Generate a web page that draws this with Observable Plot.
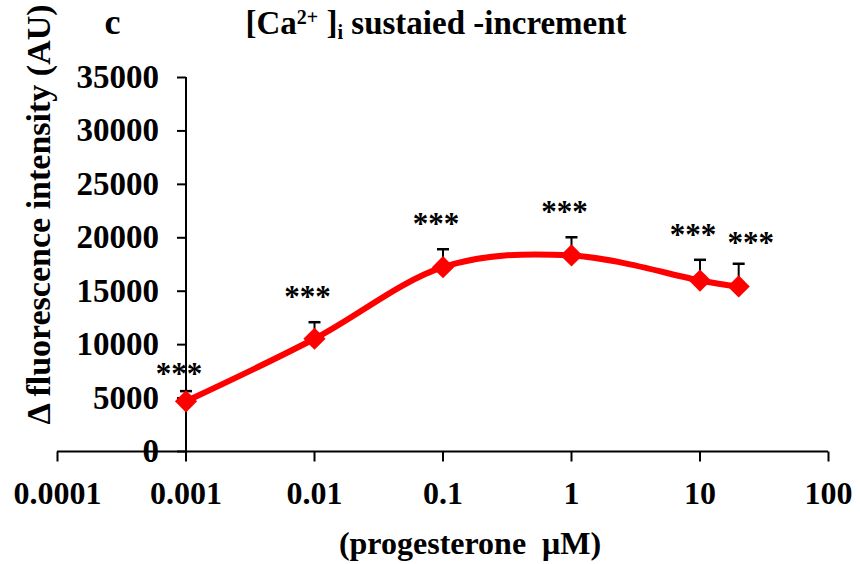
<!DOCTYPE html>
<html>
<head>
<meta charset="utf-8">
<script src="https://cdn.jsdelivr.net/npm/d3@7"></script>
<script src="https://cdn.jsdelivr.net/npm/@observablehq/plot@0.6"></script>
<style>
  html, body { margin: 0; padding: 0; background: #fff; }
  #chart { width: 860px; height: 564px; }
</style>
</head>
<body>
<div id="chart"></div>
<script>
// ---- data ----
const concentrations = [0.001, 0.01, 0.1, 1, 10, 20];           // progesterone µM
const meanIncrement  = [4700, 10550, 17250, 18350, 16000, 15450]; // Δ fluorescence (AU)
const semIncrement   = [950, 1550, 1680, 1700, 1940, 2120];       // upper error
const significance   = ["***", "***", "***", "***", "***", "***"];
const yTicks         = [0, 5000, 10000, 15000, 20000, 25000, 30000, 35000];
const yTickLabels    = ["0", "5000", "10000", "15000", "20000", "25000", "30000", "35000"];
const xTicks         = [0.0001, 0.001, 0.01, 0.1, 1, 10, 100];
const xTickLabels    = ["0.0001", "0.001", "0.01", "0.1", "1", "10", "100"];
const panelLetter    = "c";
const titleText      = "[Ca2+ ]i sustaied -increment";
const yTitle         = "Δ fluorescence intensity (AU)";
const xTitle         = "(progesterone \u00a0μM)";

const data = concentrations.map((c, i) => ({
  conc: c, mean: meanIncrement[i], upper: meanIncrement[i] + semIncrement[i], sig: significance[i]
}));
const yAxisAt = concentrations[0];
const xAxisAt = yTicks[0];

const FONT = "'Liberation Serif', 'Times New Roman', Times, serif";
const leftTick = {draw(ctx) { ctx.moveTo(-9, 0); ctx.lineTo(0, 0); }};
const downTick = {draw(ctx) { ctx.moveTo(0, 0); ctx.lineTo(0, 10); }};
const capSym = {draw(ctx) { ctx.moveTo(-6, 0); ctx.lineTo(6, 0); }};
const starStyle = {x: "conc", y: "upper", text: "sig", fontSize: 31, fontWeight: "bold",
  fontFamily: FONT, lineAnchor: "middle", fill: "black"};

const chart = Plot.plot({
  width: 860, height: 564,
  marginLeft: 57, marginRight: 32, marginTop: 77, marginBottom: 113,
  style: {fontFamily: FONT, fontWeight: "bold", fontSize: "32px", background: "#fff", color: "#000", overflow: "visible"},
  x: {type: "log", domain: [0.0001, 100], axis: null},
  y: {type: "linear", domain: [0, 35000], axis: null},
  marks: [
    Plot.ruleY([xAxisAt], {stroke: "black", strokeWidth: 2}),
    Plot.ruleX([yAxisAt], {y1: 0, y2: 35000, stroke: "black", strokeWidth: 2}),
    Plot.dot(yTicks, {x: () => yAxisAt, y: d => d, symbol: leftTick, fill: "none", stroke: "black", strokeWidth: 2}),
    Plot.text(yTicks, {x: () => yAxisAt, y: d => d, text: (d, i) => yTickLabels[i], dx: -27,
      textAnchor: "end", lineAnchor: "middle", fontSize: 33, fontWeight: "bold", fontFamily: FONT, fill: "black"}),
    Plot.dot(xTicks, {x: d => d, y: () => xAxisAt, symbol: downTick, fill: "none", stroke: "black", strokeWidth: 2}),
    Plot.text(xTicks, {x: d => d, y: () => xAxisAt, text: (d, i) => xTickLabels[i], dy: 42,
      textAnchor: "middle", lineAnchor: "middle", fontSize: 32, fontWeight: "bold", fontFamily: FONT, fill: "black"}),
    Plot.ruleX(data, {x: "conc", y1: "mean", y2: "upper", stroke: "black", strokeWidth: 2}),
    Plot.dot(data, {x: "conc", y: "upper", symbol: capSym, fill: "none", stroke: "black", strokeWidth: 2.5}),
    Plot.line(data, {x: "conc", y: "mean", stroke: "#ff0000", strokeWidth: 6, curve: "cardinal"}),
    Plot.dot(data, {x: "conc", y: "mean", symbol: "diamond2", r: 10, fill: "#ff0000", stroke: "none"}),
    Plot.text(data.slice(0, 1), {...starStyle, dx: -7, dy: -17}),
    Plot.text(data.slice(1, -1), {...starStyle, dx: -7, dy: -25}),
    Plot.text(data.slice(-1), {...starStyle, dx: 12, dy: -21}),
    Plot.text([panelLetter], {frameAnchor: "top-left", text: d => d, dx: 55, dy: -55, textAnchor: "middle",
      lineAnchor: "middle", fontSize: 36, fontWeight: "bold", fontFamily: FONT, fill: "black"}),
    Plot.text([titleText], {frameAnchor: "top-left", text: d => d, dx: 188, dy: -54, textAnchor: "start",
      lineAnchor: "middle", fontSize: 33, fontWeight: "bold", fontFamily: FONT, fill: "black"}),
    Plot.text([yTitle], {frameAnchor: "left", text: d => d, dx: -18, dy: -50, rotate: -90, textAnchor: "middle",
      lineAnchor: "middle", fontSize: 34, fontWeight: "bold", fontFamily: FONT, fill: "black"}),
    Plot.text([xTitle], {frameAnchor: "bottom", text: d => d, dx: 27, dy: 92, textAnchor: "middle",
      lineAnchor: "middle", fontSize: 32, fontWeight: "bold", fontFamily: FONT, fill: "black"})
  ]
});

// superscript / subscript in the title
chart.querySelectorAll("text").forEach(t => {
  if (t.textContent === titleText) {
    while (t.firstChild) t.removeChild(t.firstChild);
    const ns = "http://www.w3.org/2000/svg";
    const parts = [
      {s: "[Ca"},
      {s: "2+", dy: -10, size: 20},
      {s: " ]", dy: 10},
      {s: "i", dy: 5, size: 20},
      {s: " sustaied -increment", dy: -5}
    ];
    parts.forEach(p => {
      const ts = document.createElementNS(ns, "tspan");
      ts.textContent = p.s;
      if (p.dy) ts.setAttribute("dy", p.dy);
      if (p.size) ts.setAttribute("font-size", p.size);
      t.appendChild(ts);
    });
  }
});

document.getElementById("chart").appendChild(chart);
</script>
</body>
</html>
